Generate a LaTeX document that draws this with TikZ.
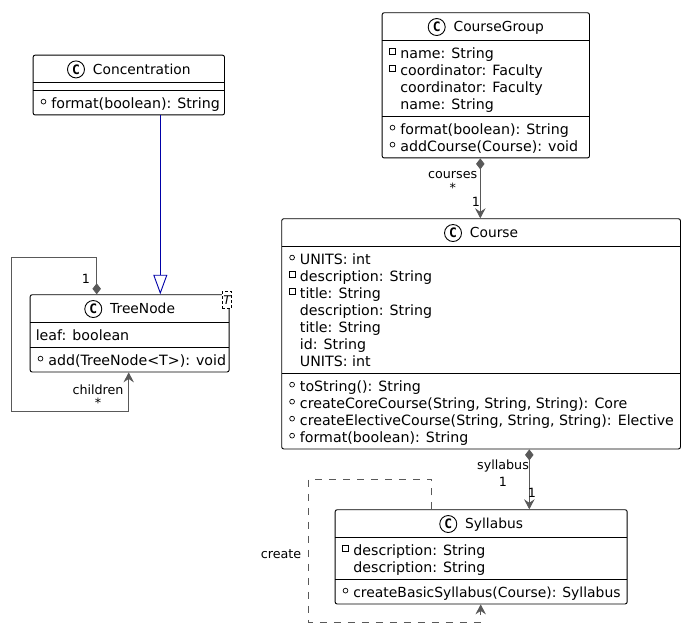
\documentclass[tikz,border=0pt]{standalone}
\usepackage{fontspec}
\usepackage{array}
\setmainfont{DejaVu Sans}
\setmonofont{DejaVu Sans Mono}
\usetikzlibrary{arrows.meta}

\definecolor{linkgray}{HTML}{595959}
\definecolor{linkblue}{HTML}{0000A8}

\setlength{\arrayrulewidth}{0.9pt}
\renewcommand{\arraystretch}{0}

% Table rows of a class box
\newcommand{\classhead}[1]{\makebox[\linewidth][c]{\rule[-8pt]{0pt}{27pt}\tikz[baseline=(icon.base)]\node[classicon] (icon) {C};\hspace{8pt}{\fontsize{13.8}{17}\selectfont #1}}}
\newcommand{\padrow}{\rule{0pt}{5.4pt}}
\newcommand{\padend}{\rule{0pt}{1.8pt}}
\newcommand{\pubrow}[1]{\rule[-4.5pt]{0pt}{17pt}\hspace{7.6pt}\makebox[10.6pt][l]{\tikz[baseline=-7pt]\draw[line width=0.7pt] (0,0) circle (2.4pt);}#1}
\newcommand{\privrow}[1]{\rule[-4.5pt]{0pt}{17pt}\hspace{7.3pt}\makebox[10.9pt][l]{\tikz[baseline=-7pt]\draw[line width=0.7pt, sharp corners] (-2.8pt,-2.8pt) rectangle (2.8pt,2.8pt);}#1}
\newcommand{\plainrow}[1]{\rule[-4.5pt]{0pt}{17pt}\hspace{18.2pt}#1}
\newcommand{\leafrow}[1]{\rule[-4.5pt]{0pt}{17pt}\hspace{5.6pt}#1}

\tikzset{
    classbox/.style={draw, line width=0.9pt, inner sep=0pt, rounded corners=2pt, anchor=north west, fill=white},
    classicon/.style={draw, circle, line width=0.9pt, inner sep=0pt, minimum size=17pt, sharp corners, font=\fontsize{13}{14}\selectfont\ttfamily\bfseries},
    linklabel/.style={inner sep=0pt, font=\fontsize{12.7}{14}\selectfont},
    composition/.style={draw=linkgray, line width=0.9pt, {Diamond[fill=linkgray, length=11pt, width=8.5pt]}-{Stealth[fill=linkgray, length=10pt, width=10.5pt, inset=3.5pt]}},
    dependency/.style={draw=linkgray, line width=0.8pt, dash pattern=on 7pt off 7pt, -{Stealth[fill=linkgray, length=10pt, width=10.5pt, inset=3.5pt]}},
    extension/.style={draw=linkblue, line width=0.9pt, -{Triangle[open, fill=white, length=19.5pt, width=14pt]}}
}

\begin{document}
\begin{tikzpicture}[x=1pt, y=-1pt, font=\fontsize{14.2}{17}\selectfont]

        \useasboundingbox (0,0) rectangle (685,628);

        % -----------------------
        % 1. CourseGroup Node
        % -----------------------
        \node[classbox] (group) at (381.7, 12.3) {
            \begin{tabular}{@{}p{207.3pt}@{}}
                \classhead{CourseGroup} \\
                \hline
                \padrow \\
                \privrow{name: String} \\
                \privrow{coordinator: Faculty} \\
                \plainrow{coordinator: Faculty} \\
                \plainrow{name: String} \\
                \padend \\
                \hline
                \padrow \\
                \pubrow{format(boolean): String} \\
                \pubrow{addCourse(Course): void} \\
                \padend \\
            \end{tabular}
        };

        % -----------------------
        % 2. Course Node
        % -----------------------
        \node[classbox] (course) at (281.3, 218.3) {
            \begin{tabular}{@{}p{398.7pt}@{}}
                \classhead{Course} \\
                \hline
                \padrow \\
                \pubrow{UNITS: int} \\
                \privrow{description: String} \\
                \privrow{title: String} \\
                \plainrow{description: String} \\
                \plainrow{title: String} \\
                \plainrow{id: String} \\
                \plainrow{UNITS: int} \\
                \padend \\
                \hline
                \padrow \\
                \pubrow{toString(): String} \\
                \pubrow{createCoreCourse(String, String, String): Core} \\
                \pubrow{createElectiveCourse(String, String, String): Elective} \\
                \pubrow{format(boolean): String} \\
                \padend \\
            \end{tabular}
        };

        % -----------------------
        % 3. Syllabus Node
        % -----------------------
        \node[classbox] (syllabus) at (334.7, 509.3) {
            \begin{tabular}{@{}p{292pt}@{}}
                \classhead{Syllabus} \\
                \hline
                \padrow \\
                \privrow{description: String} \\
                \plainrow{description: String} \\
                \padend \\
                \hline
                \padrow \\
                \pubrow{\fontsize{13.9}{17}\selectfont createBasicSyllabus(Course): Syllabus} \\
                \padend \\
            \end{tabular}
        };

        % -----------------------
        % 4. Concentration Node
        % -----------------------
        \node[classbox] (concentration) at (32.7, 54.7) {
            \begin{tabular}{@{}p{191.3pt}@{}}
                \classhead{Concentration} \\
                \hline
                \rule{0pt}{6.8pt} \\
                \hline
                \padrow \\
                \pubrow{format(boolean): String} \\
                \padend \\
            \end{tabular}
        };

        % -----------------------
        % 5. TreeNode Node
        % -----------------------
        \node[classbox] (tree) at (29.7, 294.3) {
            \begin{tabular}{@{}p{199pt}@{}}
                \classhead{TreeNode} \\
                \hline
                \padrow \\
                \leafrow{leaf: boolean} \\
                \padend \\
                \hline
                \padrow \\
                \pubrow{add(TreeNode<T>): void} \\
                \padend \\
            \end{tabular}
        };
        \node[draw, densely dashed, line width=0.7pt, fill=white, inner sep=0pt, minimum width=9.4pt, minimum height=16.6pt, font=\fontsize{12}{12}\selectfont\itshape] (treeparam) at (227, 300) {T};

        % -----------------------
        % Relationships (Lines)
        % -----------------------
        % Concentration -> TreeNode (straight line with hollow head)
        \draw[extension] ([xshift=31.5pt]concentration.south) -- ([xshift=30.65pt]tree.north);

        % CourseGroup -> Course
        \draw[composition] ([xshift=-5.5pt]group.south) -- ([xshift=-0.8pt]course.north);

        % Course -> Syllabus
        \draw[composition] ([xshift=48.2pt]course.south) -- ([xshift=48.15pt]syllabus.north);

        % TreeNode -> TreeNode (loop round the left side)
        \coordinate (treetop) at (11.3, 257.3);
        \coordinate (treebottom) at (11.3, 411.7);
        \draw[composition] ([xshift=-32.95pt]tree.north) |- (treetop) -- (treebottom) -| ([xshift=-0.95pt]tree.south);

        % Syllabus -> Syllabus (dashed loop round the left side)
        \coordinate (syllabustop) at (308.3, 479.3);
        \coordinate (syllabusbottom) at (308.3, 622.3);
        \draw[dependency] ([xshift=-49.45pt]syllabus.north) |- (syllabustop) -- (syllabusbottom) -| ([xshift=-0.45pt]syllabus.south);

        % -----------------------
        % Link labels
        % -----------------------
        \node[linklabel] (treeone) at (86, 279) {1};
        \node[linklabel] (treechildren) at (98, 390) {children};
        \node[linklabel] (treemany) at (98, 403) {*};
        \node[linklabel] (groupcourses) at (452.7, 175) {courses};
        \node[linklabel] (groupmany) at (452.7, 188) {*};
        \node[linklabel] (groupone) at (476, 202) {1};
        \node[linklabel] (coursesyllabus) at (503, 466) {syllabus};
        \node[linklabel] (courseone) at (503, 482) {1};
        \node[linklabel] (syllabusone) at (532, 493) {1};
        \node[linklabel] (syllabuscreate) at (281, 554) {create};

    \end{tikzpicture}
\end{document}
